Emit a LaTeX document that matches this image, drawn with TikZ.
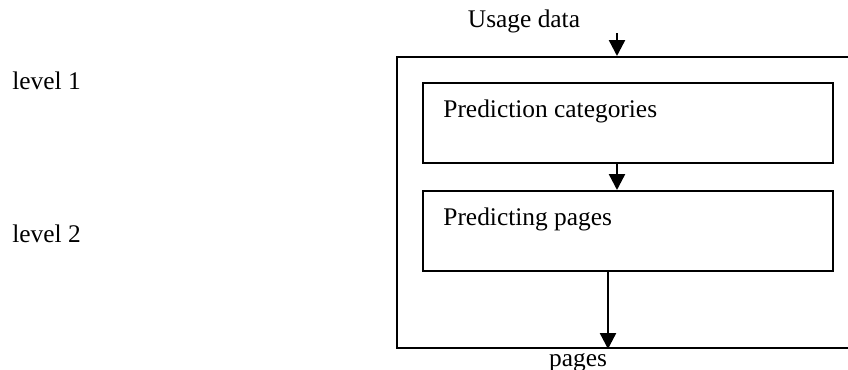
\documentclass[tikz,border=0pt]{standalone}
\usepackage{fontspec}
\setmainfont{Liberation Serif}
\usetikzlibrary{arrows.meta,positioning}

\begin{document}
\begin{tikzpicture}[x=0.5pt,y=-0.5pt,>={Triangle[length=8pt,width=8pt]},
  font=\fontsize{12.7}{15}\selectfont,line cap=butt,
  box/.style={draw,line width=1pt,rectangle,inner sep=0pt,minimum width=205pt,minimum height=40pt},
  lbl/.style={inner sep=0pt,anchor=base west},
  flow/.style={->,line width=1.2pt}]
\useasboundingbox (0,0) rectangle (848,370);
\clip (0,0) rectangle (848,370);
% outer frame runs past the right edge
\node[draw,line width=1pt,inner sep=0pt,minimum width=242pt,minimum height=145.5pt,anchor=north west] (outer) at (396,56) {};
\node[box,anchor=north west] (cat) at (422,82) {};
\node[box,anchor=north west] (page) at (422,190) {};
\node[lbl] (cattxt) at (443,117) {Prediction categories};
\node[lbl] (pagetxt) at (443,225) {Predicting pages};
\node[inner sep=0pt,anchor=base] (usage) at (524,27) {Usage data};
\node[inner sep=0pt,anchor=base] (pages) at (578,366) {pages};
\node[lbl] (lvlone) at (12,89) {level 1};
\node[lbl] (lvltwo) at (12,242) {level 2};
\coordinate (usagein) at (617,33);
\coordinate (pageout) at (608,300);
\draw[flow] (usagein) -- (usagein |- outer.north);
\draw[flow] (cat.south -| usagein) -- (page.north -| usagein);
\draw[flow] (page.south -| pageout) -- (outer.south -| pageout);
\end{tikzpicture}
\end{document}
